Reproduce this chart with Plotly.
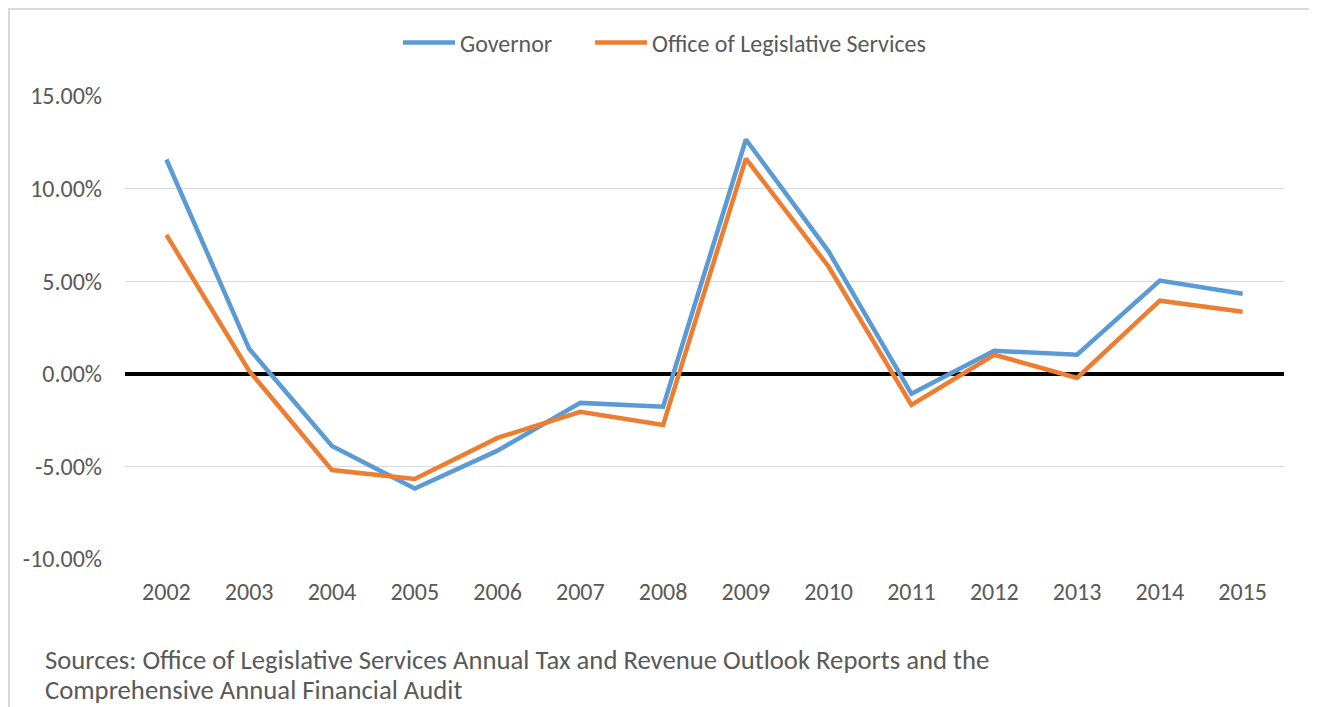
import plotly.graph_objects as go

years = ["2002", "2003", "2004", "2005", "2006", "2007", "2008",
         "2009", "2010", "2011", "2012", "2013", "2014", "2015"]
governor = [11.57, 1.35, -3.90, -6.20, -4.15, -1.57, -1.78,
            12.65, 6.60, -1.08, 1.24, 1.03, 5.03, 4.32]
ols = [7.50, 0.16, -5.20, -5.68, -3.46, -2.05, -2.76,
       11.62, 5.78, -1.68, 1.03, -0.22, 3.95, 3.35]
y_ticks = [-10, -5, 0, 5, 10, 15]
y_tick_labels = ["-10.00%", "-5.00%", "0.00%", "5.00%", "10.00%", "15.00%"]
source_lines = ["Sources: Office of Legislative Services Annual Tax and Revenue Outlook Reports and the",
                "Comprehensive Annual Financial Audit"]

FONT = "Carlito, Calibri, Lato, sans-serif"
GRAY = "#595959"
OFF = 8  # page body margin

fig = go.Figure()
fig.add_trace(go.Scatter(x=years, y=governor, name="Governor", mode="lines",
                         line=dict(color="#5B9BD5", width=4.5), legend="legend"))
fig.add_trace(go.Scatter(x=years, y=ols, name="Office of Legislative Services", mode="lines",
                         line=dict(color="#ED7D31", width=4.5), legend="legend2"))

W, H = 1309, 699
L, T = 125 - OFF, 96 - OFF
R = W - (1284 - OFF)
B = H - (559 - OFF)
pw, ph = W - L - R, H - T - B


def px_x(x):
    return (x - L) / pw


def px_y(y):
    return (H - B - y) / ph


annotations = []
for i, line in enumerate(source_lines):
    annotations.append(dict(text=line, xref="paper", yref="paper",
                            x=px_x(43 - OFF), y=px_y(660 - OFF + 30 * i),
                            xanchor="left", yanchor="middle", align="left",
                            showarrow=False,
                            font=dict(family=FONT, size=26.7, color=GRAY)))

legend_common = dict(orientation="h", xanchor="left", y=px_y(43 - OFF), yanchor="middle",
                     font=dict(size=24, color=GRAY), itemwidth=52,
                     bgcolor="rgba(0,0,0,0)")

fig.update_layout(
    width=W, height=H,
    margin=dict(l=L, r=R, t=T, b=B, pad=0),
    paper_bgcolor="white", plot_bgcolor="white",
    font=dict(family=FONT, size=24, color=GRAY),
    showlegend=True,
    legend=dict(x=px_x(398 - OFF), **legend_common),
    legend2=dict(x=px_x(590 - OFF), **legend_common),
    xaxis=dict(type="category", showgrid=False, showline=False, ticks="",
               tickfont=dict(size=24, color=GRAY), ticklabelstandoff=16,
               range=[-0.5, len(years) - 0.5], fixedrange=True),
    yaxis=dict(range=[-10, 15], tickvals=y_ticks, ticktext=y_tick_labels,
               showgrid=True, gridcolor="#D9D9D9", gridwidth=1,
               zeroline=True, zerolinecolor="black", zerolinewidth=3.5,
               showline=False, ticks="", tickfont=dict(size=24, color=GRAY),
               ticklabelstandoff=22, fixedrange=True),
    shapes=[dict(type="rect", xref="paper", yref="paper",
                 x0=px_x(1), x1=px_x(1314 - OFF), y0=px_y(H + 20), y1=px_y(1),
                 line=dict(color="#D9D9D9", width=2), fillcolor="rgba(0,0,0,0)",
                 layer="below")],
    annotations=annotations,
)

fig.write_html("out.html")
